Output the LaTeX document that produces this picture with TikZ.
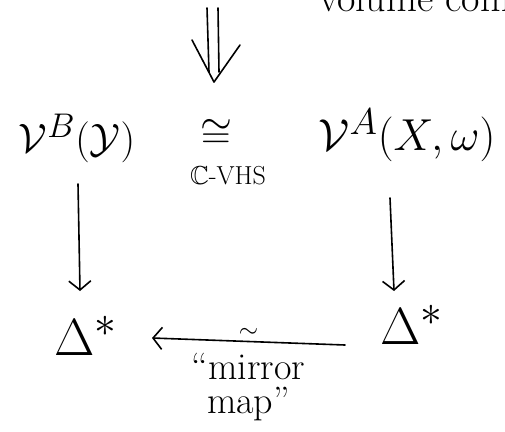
\documentclass[tikz,border=0pt]{standalone}
\usepackage{fontspec}
\usepackage{amsmath,amssymb}
\usetikzlibrary{arrows.meta,positioning,calc}
\newcommand{\bigobj}[2][1.65]{\scalebox{#1}{\Huge #2}}
\tikzset{
  obj/.style={inner sep=1pt},
  lbl/.style={font=\fontsize{26}{30}\selectfont, inner sep=1pt},
  note/.style={font=\fontsize{38}{34}\selectfont, inner sep=1pt},
  hand/.style={line width=1.6pt, line cap=round, line join=round},
  map/.style={hand, -{Straight Barb[length=9pt, width=22pt, line width=1.6pt]}}
}
\begin{document}
\begin{tikzpicture}[x=1pt, y=-1pt]
    % Page frame
    \fill[white] (0,0) rectangle (505,431);
    \clip (0,0) rectangle (505,431);
    \node[obj, anchor=base west, font=\fontsize{40}{44}\selectfont] (vol) at (318,11) {volume com};

    % Double arrow
    \draw[hand] (207,8) -- (209,72);
    \draw[hand] (218,8) -- (219,72);
    \draw[hand] (192,40) -- (214,82) -- (240,45);

    % Top row
    \node[obj] (vb) at (77,138) {\bigobj{$\mathcal{V}^B(\mathcal{Y})$}};
    \node[obj] (iso) at (216,134) {\bigobj{$\cong$}};
    \node[lbl] (vhs) at (228,176) {$\mathbb{C}$-VHS};
    \node[obj] (va) at (407,135) {\bigobj[1.8]{$\mathcal{V}^A(X,\omega)$}};

    % Bottom row
    \node[obj] (dl) at (86,336) {\bigobj[2.1]{$\Delta^{*}$}};
    \node[obj] (dr) at (412,325) {\bigobj[2.1]{$\Delta^{*}$}};

    % Arrow ends
    \coordinate (ltop) at (78,184);
    \coordinate (lend) at (80,291);
    \coordinate (rtop) at (390,198);
    \coordinate (rend) at (394,291);
    \coordinate (btail) at (345,345);
    \coordinate (bend) at (152,338);

    % Maps
    \draw[map] (ltop) -- (lend);
    \draw[map] (rtop) -- (rend);
    \draw[map] (btail) -- node[note, above=2pt] (sim) {$\sim$}
        node[note, below=10pt, align=center] (mm) {``mirror\\ map''} (bend);
\end{tikzpicture}
\end{document}
